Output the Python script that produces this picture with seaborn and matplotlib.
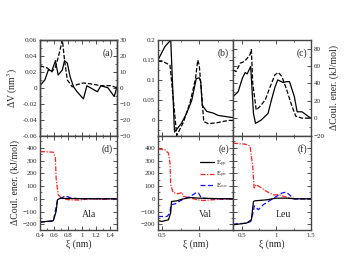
import numpy as np
import pandas as pd
import matplotlib
matplotlib.use("Agg")
import matplotlib.pyplot as plt
from matplotlib.ticker import MultipleLocator
import seaborn as sns

# -------------------------
# Data
# -------------------------
# (a) Ala: dV (nm^3) solid, dCoul (kJ/mol) dashed
a_dv_x = [0.4, 0.47, 0.52, 0.57, 0.62, 0.66, 0.72, 0.75, 0.79, 0.83, 0.88, 0.93, 1.02, 1.07, 1.12, 1.22, 1.27, 1.37, 1.46, 1.5]
a_dv_y = [0.0025, 0.01, 0.0225, 0.021, 0.034, 0.016, 0.0225, 0.034, 0.031, 0.014, 0.001, -0.005, -0.014, 0.0025, 0.0, -0.005, 0.0025, 0.0, -0.011, 0.001]
a_ec_x = [0.4, 0.5, 0.57, 0.62, 0.66, 0.72, 0.75, 0.79, 0.86, 0.93, 1.02, 1.12, 1.27, 1.41, 1.5]
a_ec_y = [13.8, 12.5, 10, 13, 19, 30, 17.5, 5, 0.6, 2, 3, 2.5, 1.3, 1.3, 0]

# (b) Val
b_dv_x = [0.45, 0.54, 0.62, 0.67, 0.76, 0.83, 0.90, 0.96, 1.0, 1.02, 1.04, 1.1, 1.19, 1.25, 1.41, 1.45]
b_dv_y = [0.15, 0.183, 0.2, -0.029, -0.008, 0.017, 0.05, 0.104, 0.106, 0.096, 0.0375, 0.0225, 0.018, 0.0125, 0.008, 0.007]
b_ec_x = [0.45, 0.52, 0.61, 0.70, 0.79, 0.88, 0.95, 0.98, 1.0, 1.04, 1.06, 1.12, 1.23, 1.39, 1.45]
b_ec_y = [0.1475, 0.146, 0.1375, -0.0375, -0.004, 0.046, 0.104, 0.15, 0.1375, 0.046, -0.003, -0.008, -0.006, 0.0, 0.0]

# (c) Leu
c_dv_x = [0.375, 0.45, 0.51, 0.55, 0.58, 0.63, 0.67, 0.70, 0.78, 0.88, 0.93, 0.98, 1.02, 1.1, 1.14, 1.19, 1.26, 1.3, 1.37, 1.47, 1.5]
c_dv_y = [24.7, 30.5, 46, 52.5, 51, 59.5, 5.4, -6, -2.3, 5.4, 21, 35.6, 44, 41, 42, 42, 24.7, 7.3, 7.3, 1.5, 0]
c_ec_x = [0.375, 0.42, 0.48, 0.54, 0.58, 0.62, 0.64, 0.66, 0.71, 0.77, 0.84, 0.91, 0.98, 1.03, 1.08, 1.15, 1.22, 1.28, 1.37, 1.46, 1.5]
c_ec_y = [55.6, 53.7, 63.4, 65.3, 69, 73, 79, 40, 9.3, 14, 21, 36, 50, 52.5, 48, 32.5, 15, 2.3, 0, 0, 0]

# (d) Ala energy components
d_pp_x = [0.4, 0.59, 0.63, 0.65, 0.69, 0.8, 1.0, 1.2, 1.5]
d_pp_y = [-183, -172, -100, -8, 5, 2, 1, 0, 0]
d_pw_x = [0.4, 0.59, 0.62, 0.63, 0.66, 0.71, 0.81, 0.96, 1.1, 1.3, 1.5]
d_pw_y = [371, 366, 319, 162, 31, 5, -8, -10, 0, -5, 0]
d_ww_x = [0.4, 0.59, 0.65, 0.72, 0.76, 0.85, 1.0, 1.2, 1.5]
d_ww_y = [-183, -175, -10, 10, 23, 5, 0, 2, 0]

# (e) Val energy components
e_pp_x = [0.45, 0.5, 0.59, 0.62, 0.63, 0.70, 0.77, 0.88, 0.99, 1.2, 1.45]
e_pp_y = [-170, -178, -165, -107, -21, -16, -3, 10, 5, 2, 0]
e_pw_x = [0.45, 0.544, 0.59, 0.61, 0.62, 0.65, 0.72, 0.77, 0.79, 0.9, 0.97, 1.05, 1.25, 1.45]
e_pw_y = [392, 384, 358, 280, 110, 50, 40, 50, 18, 5, -8, -13, -5, 0]
e_ww_x = [0.45, 0.57, 0.61, 0.62, 0.68, 0.77, 0.88, 0.96, 0.99, 1.03, 1.2, 1.45]
e_ww_y = [-139, -139, -112, -47, -39, -8, 18, 49, 45, 5, 0, 0]

# (f) Leu energy components
f_pp_x = [0.375, 0.57, 0.64, 0.67, 0.69, 0.86, 1.0, 1.14, 1.29, 1.5]
f_pp_y = [-204, -191, -165, -21, -16, -8, 5, 5, 0, 0]
f_pw_x = [0.375, 0.55, 0.62, 0.66, 0.68, 0.71, 0.79, 0.86, 0.96, 1.04, 1.11, 1.25, 1.5]
f_pw_y = [437, 429, 416, 253, 84, 110, 84, 57, 31, 31, 18, 0, 0]
f_ww_x = [0.375, 0.57, 0.63, 0.67, 0.68, 0.74, 0.81, 0.96, 1.08, 1.14, 1.19, 1.26, 1.5]
f_ww_y = [-199, -191, -178, -100, -55, -86, -47, 5, 45, 53, 31, -2, 0]

panel_labels = ["(a)", "(b)", "(c)", "(d)", "(e)", "(f)"]
residues = ["Ala", "Val", "Leu"]

# -------------------------
# Style
# -------------------------
sns.set_theme(style="ticks")
plt.rcParams["font.family"] = ["Liberation Serif", "DejaVu Serif"]
plt.rcParams["mathtext.fontset"] = "stix"
plt.rcParams["xtick.direction"] = "in"
plt.rcParams["ytick.direction"] = "in"
plt.rcParams["xtick.labelsize"] = 5
plt.rcParams["ytick.labelsize"] = 5
plt.rcParams["axes.edgecolor"] = "#444444"
plt.rcParams["axes.linewidth"] = 1.0

W, H = 352, 272
fig = plt.figure(figsize=(W / 100, H / 100), dpi=100)


def box(x0, x1, y0, y1):
    return [x0 / W, 1 - y1 / H, (x1 - x0) / W, (y1 - y0) / H]


def ticks(ax, xmaj, xmin, ymaj, ymin):
    ax.xaxis.set_major_locator(MultipleLocator(xmaj))
    ax.xaxis.set_minor_locator(MultipleLocator(xmin))
    ax.yaxis.set_major_locator(MultipleLocator(ymaj))
    ax.yaxis.set_minor_locator(MultipleLocator(ymin))
    ax.tick_params(which="both", top=True, right=True, pad=2, color="#333333")
    ax.tick_params(which="major", length=3, width=0.6)
    ax.tick_params(which="minor", length=1.6, width=0.5)


def line(ax, x, y, color="black", ls="-", label=None):
    sns.lineplot(x=x, y=y, ax=ax, color=color, linestyle=ls, linewidth=0.9,
                 sort=False, estimator=None, label=label, legend=False)


def fmt(v, p):
    return "0" if abs(v) < 1e-9 else f"{v:g}"


TOP0, TOP1, BOT1 = 40, 135.5, 230
cols = [(40, 117), (158, 233), (233, 311)]
xlims = [(0.4, 1.5), (0.45, 1.45), (0.375, 1.5)]
dash = (0, (3.5, 1.5))
dashdot = (0, (4, 1.2, 1, 1.2))

# -------------------------
# Top row
# -------------------------
ax_a = fig.add_axes(box(*cols[0], TOP0, TOP1))
line(ax_a, a_dv_x, a_dv_y)
ax_a.set_xlim(*xlims[0])
ax_a.set_ylim(-0.06, 0.06)
ticks(ax_a, 0.2, 0.1, 0.02, 0.01)
ax_a.set_xticklabels([])
ax_a.yaxis.set_major_formatter(plt.FuncFormatter(lambda v, p: "0" if abs(v) < 1e-9 else f"{v:.2f}"))
ax_a.set_ylabel("ΔV (nm$^3$)", fontsize=7, labelpad=2)
ax_a2 = ax_a.twinx()
line(ax_a2, a_ec_x, a_ec_y, ls=dash)
ax_a2.set_ylim(-30, 30)
ax_a2.yaxis.set_major_locator(MultipleLocator(10))
ax_a2.yaxis.set_minor_locator(MultipleLocator(5))
ax_a2.tick_params(which="both", direction="in", pad=2, labelsize=5)
ax_a2.tick_params(which="major", length=3, width=0.6)
ax_a2.tick_params(which="minor", length=1.6, width=0.5)
ax_a2.set_ylabel("")

ax_b = fig.add_axes(box(*cols[1], TOP0, TOP1))
line(ax_b, b_dv_x, b_dv_y)
line(ax_b, b_ec_x, b_ec_y, ls=dash)
ax_b.set_xlim(*xlims[1])
ax_b.set_ylim(-0.0375, 0.2)
ticks(ax_b, 0.5, 0.25, 0.05, 0.025)
ax_b.set_xticklabels([])
ax_b.yaxis.set_major_formatter(plt.FuncFormatter(fmt))

ax_c = fig.add_axes(box(*cols[2], TOP0, TOP1))
line(ax_c, c_dv_x, c_dv_y)
line(ax_c, c_ec_x, c_ec_y, ls=dash)
ax_c.set_xlim(*xlims[2])
ax_c.set_ylim(-20, 90)
ticks(ax_c, 0.5, 0.25, 20, 10)
ax_c.set_xticklabels([])
ax_c.tick_params(which="both", left=True, labelleft=False, labelright=True)
ax_c.yaxis.set_label_position("right")
ax_c.set_ylabel("ΔCoul. ener. (kJ/mol)", fontsize=7, labelpad=3, rotation=90)

# -------------------------
# Bottom row
# -------------------------
bottom = [
    (d_pp_x, d_pp_y, d_pw_x, d_pw_y, d_ww_x, d_ww_y),
    (e_pp_x, e_pp_y, e_pw_x, e_pw_y, e_ww_x, e_ww_y),
    (f_pp_x, f_pp_y, f_pw_x, f_pw_y, f_ww_x, f_ww_y),
]
bot_axes = []
for i, (ppx, ppy, pwx, pwy, wwx, wwy) in enumerate(bottom):
    ax = fig.add_axes(box(*cols[i], TOP1, BOT1))
    line(ax, pwx, pwy, color="#ff2020", ls=dashdot, label="E$_{pw}$")
    line(ax, wwx, wwy, color="#1010ff", ls=(0, (4, 2)), label="E$_{ww}$")
    line(ax, ppx, ppy, color="black", label="E$_{pp}$")
    ax.set_xlim(*xlims[i])
    ax.set_ylim(-245, 497)
    if i == 0:
        ticks(ax, 0.2, 0.1, 100, 50)
        ax.set_ylabel("ΔCoul. ener. (kJ/mol)", fontsize=7, labelpad=2)
    else:
        ticks(ax, 0.5, 0.25, 100, 50)
    if i == 2:
        ax.set_yticklabels([])
    ax.xaxis.set_major_formatter(plt.FuncFormatter(fmt))
    ax.set_xlabel("ξ (nm)", fontsize=7, labelpad=1)
    ax.text(0.55, 0.16, residues[i], transform=ax.transAxes, fontsize=7, ha="left", va="center")
    bot_axes.append(ax)

# legend in (e), ordered pp, pw, ww
h, l = bot_axes[1].get_legend_handles_labels()
order = [2, 0, 1]
bot_axes[1].legend([h[k] for k in order], [l[k] for k in order], loc="upper right",
                   bbox_to_anchor=(1.0, 0.8), frameon=False, fontsize=5,
                   handlelength=2.0, handletextpad=0.3, labelspacing=0.15, borderpad=0.1)

# panel letters
for ax, lab in zip([ax_a, ax_b, ax_c] + bot_axes, panel_labels):
    ax.text(0.95, 0.86, lab, transform=ax.transAxes, fontsize=7, ha="right", va="center")

fig.savefig("out.png", dpi=100)
